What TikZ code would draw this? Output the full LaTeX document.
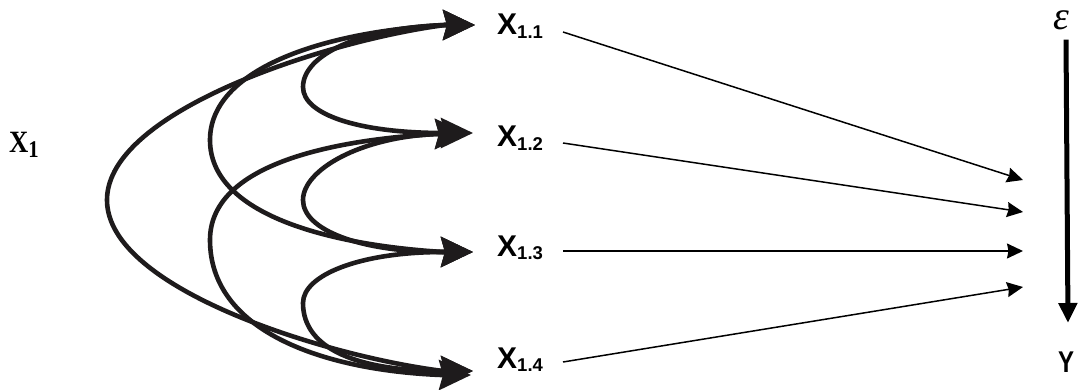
\documentclass[tikz,border=0pt]{standalone}
\usepackage{fontspec}
\setmainfont{Liberation Serif}
\setsansfont{Liberation Sans}
\usetikzlibrary{arrows.meta}
\definecolor{ink}{RGB}{30,27,28}
% variable label: bold sans X with a numeric subscript
\newcommand\varlab[1]{\fontsize{30}{30}\selectfont X\fontsize{18.5}{18.5}\selectfont\raisebox{-3.5pt}{#1}}
\begin{document}
\begin{tikzpicture}[x=1pt,y=-1pt,
  corr/.style={line width=4.6pt, draw=ink, line join=round,
    {Stealth[length=32pt,width=30pt,inset=4pt]}-{Stealth[length=32pt,width=30pt,inset=4pt]}},
  effect/.style={line width=1.5pt, draw=black, -{Stealth[length=16pt,width=15pt,inset=1.5pt]}},
  slbl/.style={inner sep=0pt, anchor=base west, font=\sffamily\bfseries}]
\useasboundingbox (0,0) rectangle (1078,390);

% labels
\node[inner sep=0pt, anchor=base west, font=\bfseries] (x1) at (9,153)
  {\scalebox{0.86}[1]{\fontsize{31}{31}\selectfont X\fontsize{24}{24}\selectfont\raisebox{-5pt}{1}}};
\node[slbl] (x11) at (497,35) {\varlab{1.1}};
\node[slbl] (x12) at (497,147) {\varlab{1.2}};
\node[slbl] (x13) at (497,256) {\varlab{1.3}};
\node[slbl] (x14) at (497,368) {\varlab{1.4}};
\node[inner sep=0pt, anchor=base] (eps) at (1061,30) {\fontsize{40}{40}\selectfont\itshape ε};
\node[slbl, anchor=base] (y) at (1066,372) {\scalebox{0.8}[1]{\fontsize{30}{30}\selectfont Y}};

% tips and shaft ends of the correlation arrows
\coordinate (a1) at (475,25);  \coordinate (b1) at (445,25);
\coordinate (a2) at (473,133); \coordinate (b2) at (443,133);
\coordinate (a2') at (467,134); \coordinate (b2') at (437,134);
\coordinate (a3) at (473,252); \coordinate (b3) at (443,252);
\coordinate (a4) at (473,371); \coordinate (b4) at (443,371);
\coordinate (a4') at (471,375); \coordinate (b4') at (441,375);

% correlations between the sub-variables
\draw[corr] (a1) -- (b1) .. controls (360,28) and (303,55) .. (303,87)
  .. controls (303,115) and (360,133) .. (b2) -- (a2);
\draw[corr] (a1) -- (b1) .. controls (320,32) and (210,70) .. (210,140)
  .. controls (210,215) and (330,245) .. (b3) -- (a3);
\draw[corr] (a1) -- (b1) .. controls (330,40) and (107,110) .. (107,200)
  .. controls (107,290) and (330,357) .. (b4) -- (a4);
\draw[corr] (a2') -- (b2') .. controls (360,137) and (303,170) .. (303,200)
  .. controls (303,230) and (360,252) .. (b3) -- (a3);
\draw[corr] (a2') -- (b2') .. controls (330,140) and (210,165) .. (210,240)
  .. controls (210,330) and (320,370) .. (b4') -- (a4');
\draw[corr] (a3) -- (b3) .. controls (360,252) and (303,275) .. (303,303)
  .. controls (303,350) and (360,371) .. (b4) -- (a4);

% paths towards Y
\coordinate (s1) at (563,32);  \coordinate (e1) at (1023,180);
\coordinate (s2) at (563,143); \coordinate (e2) at (1023,212);
\coordinate (s3) at (563,251); \coordinate (e3) at (1023,251);
\coordinate (s4) at (563,362); \coordinate (e4) at (1023,287);
\draw[effect] (s1) -- (e1);
\draw[effect] (s2) -- (e2);
\draw[effect] (s3) -- (e3);
\draw[effect] (s4) -- (e4);

% residual arrow
\draw[line width=5pt, -{Triangle[length=20pt,width=18pt]}]
  (eps.south -| y.north) ++(0,9) coordinate (r0) -- (1068,323) coordinate (r1);
\end{tikzpicture}
\end{document}
